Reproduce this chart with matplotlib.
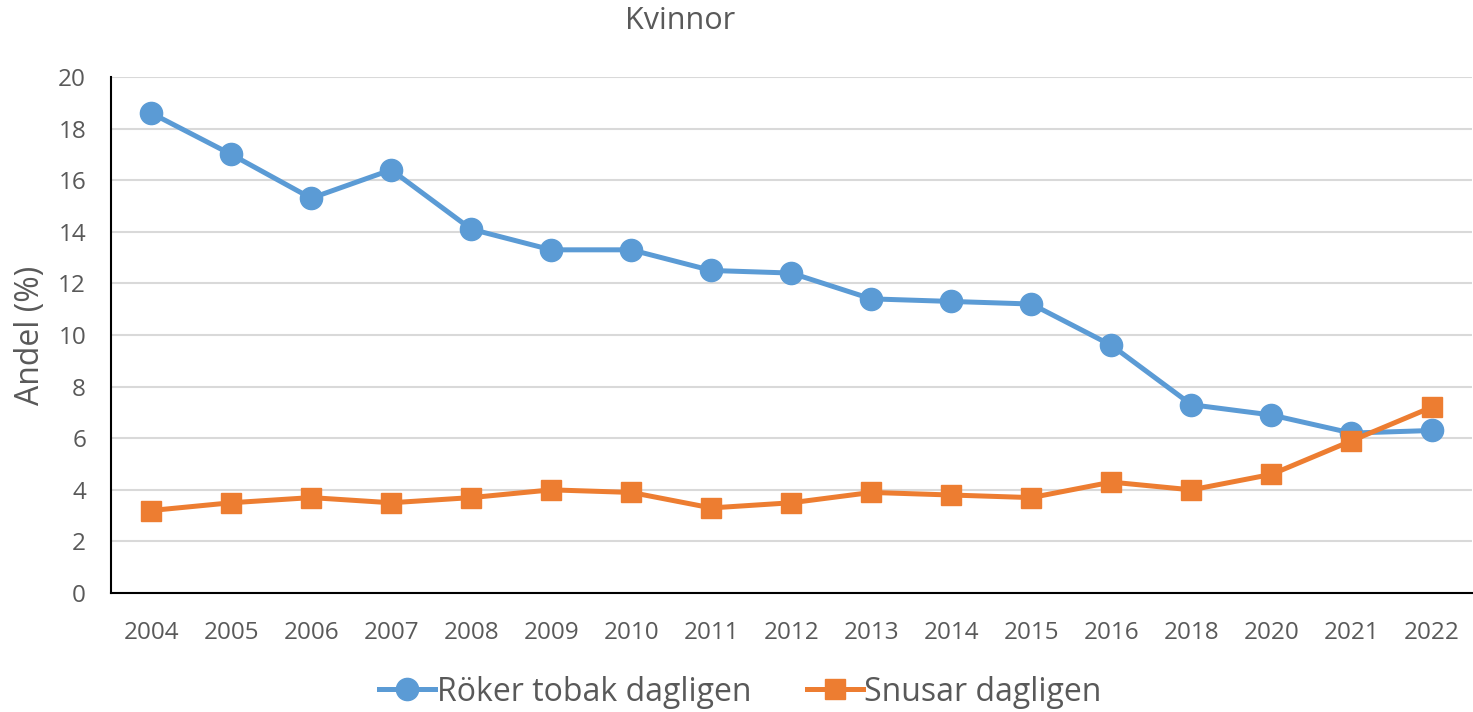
import matplotlib.pyplot as plt
import numpy as np

plt.rcParams['font.family'] = ['Open Sans', 'DejaVu Sans']

years = ['2004', '2005', '2006', '2007', '2008', '2009', '2010', '2011', '2012',
         '2013', '2014', '2015', '2016', '2018', '2020', '2021', '2022']
roker = [18.6, 17.0, 15.3, 16.4, 14.1, 13.3, 13.3, 12.5, 12.4,
         11.4, 11.3, 11.2, 9.6, 7.3, 6.9, 6.2, 6.3]
snusar = [3.2, 3.5, 3.7, 3.5, 3.7, 4.0, 3.9, 3.3, 3.5,
          3.9, 3.8, 3.7, 4.3, 4.0, 4.6, 5.9, 7.2]

textfarg = '#595959'
x = np.arange(len(years))

fig = plt.figure(figsize=(14.73, 7.12), dpi=100)
ax = fig.add_axes([0.0754, 0.167, 0.9236, 0.725])

ax.plot(x, roker, color='#5B9BD5', lw=3.6, marker='o', ms=16, label='Röker tobak dagligen', zorder=3)
ax.plot(x, snusar, color='#ED7D31', lw=3.6, marker='s', ms=15, label='Snusar dagligen', zorder=4)

ax.set_xlim(-0.5, len(years) - 0.5)
ax.set_ylim(0, 20)
ax.set_yticks(range(0, 21, 2))
ax.set_xticks(x)
ax.set_xticklabels(years)
ax.grid(axis='y', color='#D9D9D9', lw=1.5)
ax.set_axisbelow(True)
ax.tick_params(axis='both', length=0, labelsize=17.5, colors=textfarg)
ax.tick_params(axis='x', pad=20)
ax.tick_params(axis='y', pad=18)

for s in ['top', 'right']:
    ax.spines[s].set_visible(False)
ax.spines['left'].set_linewidth(1.5)
ax.spines['bottom'].set_linewidth(1.5)

ax.set_ylabel('Andel (%)', fontsize=23, color=textfarg, labelpad=8)
fig.text(0.4616, 0.97, 'Kvinnor', ha='center', va='center', fontsize=22, color=textfarg)

leg = fig.legend(loc='center', bbox_to_anchor=(0.5027, 0.028), ncol=2, frameon=False,
                 fontsize=23, handlelength=1.75, handletextpad=0.05, columnspacing=1.75,
                 labelcolor=textfarg)

fig.savefig('out.png', dpi=100)
